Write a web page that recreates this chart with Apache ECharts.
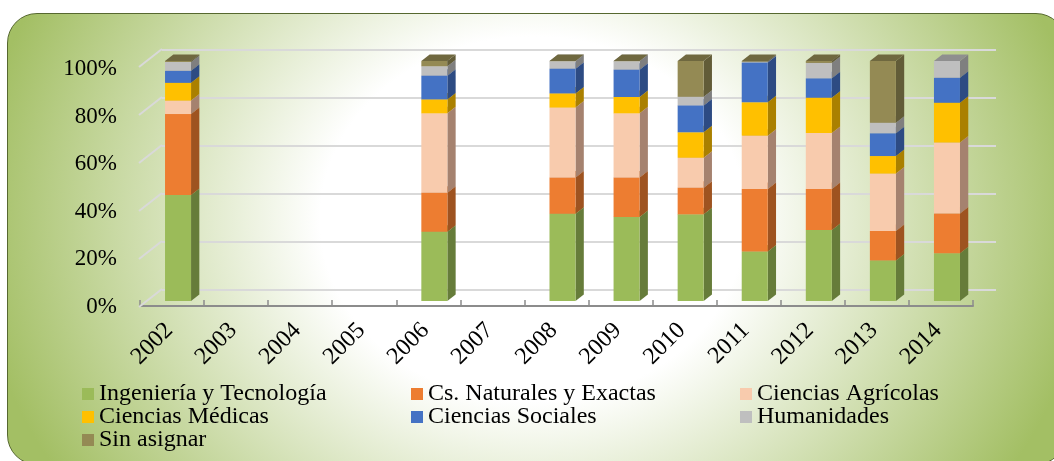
<!DOCTYPE html>
<html>
<head>
<meta charset="utf-8">
<script src="https://cdn.jsdelivr.net/npm/echarts@6/dist/echarts.min.js"></script>
<style>
html,body{margin:0;padding:0;background:#fff;width:1054px;height:461px;overflow:hidden}
#panel{position:absolute;left:7px;top:13px;width:1059px;height:452px;box-sizing:border-box;border:1.5px solid #56682f;border-radius:30px;
background:radial-gradient(ellipse 560px 480px at 525px 205px,#fff 38%,#a3bf64 100%)}
#chart{position:absolute;left:0;top:0;width:1054px;height:461px}
</style>
</head>
<body>
<div id="panel"></div>
<div id="chart"></div>
<script>
const categories = ['2002','2003','2004','2005','2006','2007','2008','2009','2010','2011','2012','2013','2014'];
const ingenieria = [44.2,null,null,null,28.9,null,36.4,35.0,36.1,20.6,29.6,16.9,19.9];
const naturales  = [33.7,null,null,null,16.2,null,15.1,16.5,11.1,26.1,17.1,12.3,16.6];
const agricolas  = [ 5.6,null,null,null,33.1,null,29.1,26.7,12.5,22.2,23.3,23.9,29.5];
const medicas    = [ 7.4,null,null,null, 5.8,null, 5.9, 6.8,10.6,13.9,14.7, 7.3,16.6];
const sociales   = [ 5.0,null,null,null, 9.9,null,10.3,11.4,11.2,16.6, 8.1, 9.5,10.4];
const humanidades= [ 3.7,null,null,null, 3.9,null, 3.1, 3.5, 3.6, 0.3, 6.4, 4.4, 7.0];
const sinAsignar = [ 0.4,null,null,null, 2.2,null, 0.1, 0.1,14.9, 0.3, 0.8,25.7, 0.0];
const valueTicks = [0,20,40,60,80,100];

const fontFamily = '"Liberation Serif","Times New Roman",serif';
const depthX = 8.3, depthY = 6.5;
const defs = [
  {name:'Ingeniería y Tecnología', values:ingenieria, front:'#9bbb59', side:'#667c3a', top:'#7f9a48'},
  {name:'Cs. Naturales y Exactas', values:naturales, front:'#ed7d31', side:'#9e5320', top:'#bf6528'},
  {name:'Ciencias Agrícolas', values:agricolas, front:'#f8cbad', side:'#a5826f', top:'#c9a48c'},
  {name:'Ciencias Médicas', values:medicas, front:'#ffc000', side:'#aa8000', top:'#cf9c00'},
  {name:'Ciencias Sociales', values:sociales, front:'#4472c4', side:'#2d4b83', top:'#375c9f'},
  {name:'Humanidades', values:humanidades, front:'#bfbfbf', side:'#7f7f7f', top:'#8f8f8f'},
  {name:'Sin asignar', values:sinAsignar, front:'#948a54', side:'#625c38', top:'#6f683f'}
];

const cumulative = categories.map(() => 0);
const barSeries = defs.map(d => {
  const data = [];
  d.values.forEach((v, i) => {
    if (v === null || v === 0) return;
    data.push([i, cumulative[i], cumulative[i] + v]);
    cumulative[i] += v;
  });
  return {
    name: d.name, type: 'custom', xAxisIndex: 2, yAxisIndex: 2, z: 5,
    coordinateSystem: 'cartesian2d',
    itemStyle: {color: d.front},
    encode: {x: 0, y: [1, 2]},
    data,
    renderItem(params, api) {
      const lo = api.coord([api.value(0), api.value(1)]);
      const hi = api.coord([api.value(0), api.value(2)]);
      const w = api.size([1, 0])[0] * 0.406;
      const l = lo[0] - w / 2, r = lo[0] + w / 2, b = lo[1], t = hi[1];
      return {type: 'group', children: [
        {type: 'polygon', shape: {points: [[r,b],[r+depthX,b-depthY],[r+depthX,t-depthY],[r,t]]}, style: {fill: d.side}},
        {type: 'polygon', shape: {points: [[l,t],[r,t],[r+depthX,t-depthY],[l+depthX,t-depthY]]}, style: {fill: d.top}},
        {type: 'rect', shape: {x: l, y: t, width: w, height: b - t}, style: {fill: d.front}}
      ]};
    }
  };
});

const wallSides = {
  type: 'custom', xAxisIndex: 0, yAxisIndex: 0, z: 1, silent: true,
  data: valueTicks.map(v => [0, v]),
  encode: {x: 0, y: 1},
  renderItem(params, api) {
    const y = api.coord([0, api.value(1)])[1];
    const x = params.coordSys.x;
    return {type: 'line', shape: {x1: x - 1, y1: y + 1, x2: x + 22, y2: y - 17},
      style: {stroke: '#d9d9d9', lineWidth: 2, fill: null}};
  }
};

const legendBase = {
  orient: 'vertical', icon: 'rect', itemWidth: 12, itemHeight: 12, itemGap: -1,
  selectedMode: false, padding: 0,
  textStyle: {fontFamily, fontSize: 24, color: '#000', lineHeight: 23}
};

const option = {
  animation: false,
  backgroundColor: 'transparent',
  textStyle: {fontFamily},
  legend: [
    {...legendBase, left: 82, top: 382, data: [defs[0].name, defs[3].name, defs[6].name]},
    {...legendBase, left: 411, top: 382, data: [defs[1].name, defs[4].name]},
    {...legendBase, left: 740, top: 382, data: [defs[2].name, defs[5].name]}
  ],
  grid: [
    {left: 140, top: 66, width: 833, height: 240},
    {left: 162, top: 49.5, width: 834, height: 240},
    {left: 146, top: 61, width: 833, height: 240},
    {left: 140, top: 69, width: 833, height: 238}
  ],
  xAxis: [
    {type: 'category', gridIndex: 0, data: categories,
      axisLine: {show: true, lineStyle: {color: '#8c8c8c', width: 2}},
      axisTick: {show: true, inside: true, length: 6, lineStyle: {color: '#8c8c8c', width: 1.5}},
      axisLabel: {rotate: 45, interval: 0, margin: 18, padding: [0,4,0,0], fontFamily, fontSize: 24, color: '#000'}},
    {type: 'category', gridIndex: 1, data: categories, show: false},
    {type: 'category', gridIndex: 2, data: categories, show: false},
    {type: 'category', gridIndex: 3, data: categories, show: false}
  ],
  yAxis: [
    {type: 'value', gridIndex: 0, min: 0, max: 100, interval: 20, show: false, splitLine: {show: false}},
    {type: 'value', gridIndex: 1, min: 0, max: 100, interval: 20,
      axisLine: {show: false}, axisTick: {show: false}, axisLabel: {show: false},
      splitLine: {show: true, lineStyle: {color: '#d9d9d9', width: 2}}},
    {type: 'value', gridIndex: 2, min: 0, max: 100, interval: 20, show: false, splitLine: {show: false}},
    {type: 'value', gridIndex: 3, min: 0, max: 100, interval: 20,
      axisLine: {show: false}, axisTick: {show: false}, splitLine: {show: false},
      axisLabel: {formatter: '{value}%', margin: 23, fontFamily, fontSize: 23, color: '#000'}}
  ],
  series: [wallSides, ...barSeries]
};

const chart = echarts.init(document.getElementById('chart'), null, {renderer: 'canvas'});
chart.setOption(option);
</script>
</body>
</html>
